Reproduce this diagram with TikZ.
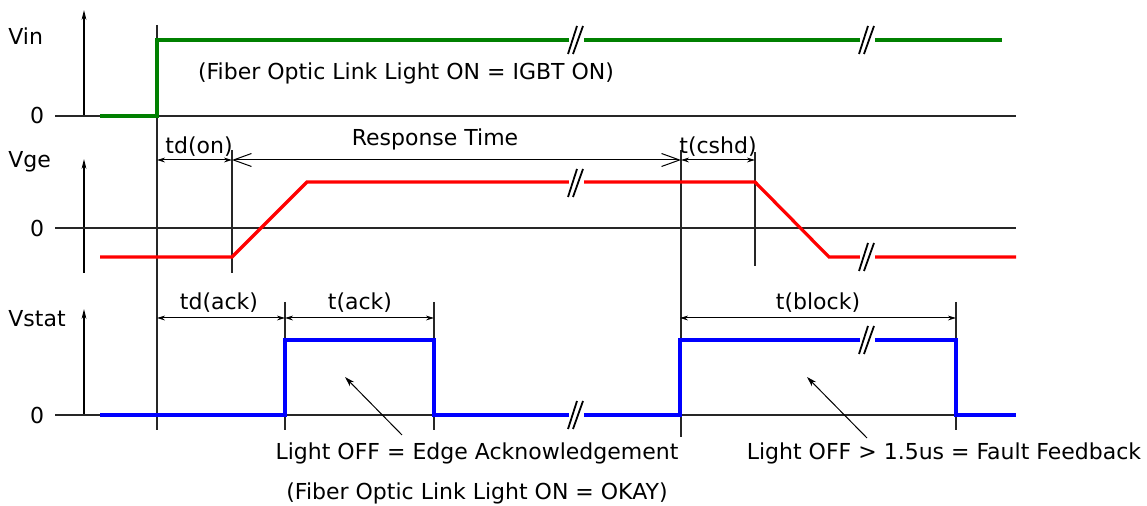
\documentclass[tikz,border=0pt]{standalone}
\usepackage{fontspec}
\setmainfont{DejaVu Sans}
\usetikzlibrary{arrows.meta,positioning,calc}

\definecolor{vingreen}{RGB}{0,128,0}
\definecolor{vgered}{RGB}{255,0,0}
\definecolor{statblue}{RGB}{0,0,255}

\begin{document}
\begin{tikzpicture}[x=0.5pt, y=-0.5pt,
	every node/.style={font=\fontsize{11}{13}\selectfont, inner sep=0pt},
	guide/.style={line width=0.6pt, black!85},
	axis/.style={line width=0.6pt, -{Stealth[length=5pt,width=2.4pt]}},
	dim/.style={line width=0.5pt, {Stealth[length=4pt,width=2.4pt]}-{Stealth[length=4pt,width=2.4pt]}},
	span/.style={line width=0.5pt, {Straight Barb[length=9pt,width=6.5pt]}-{Straight Barb[length=9pt,width=6.5pt]}},
	sig/.style={line width=1.6pt},
	brk/.style={line width=0.9pt},
	note/.style={line width=0.5pt, -{Stealth[length=5pt,width=3pt]}}]

	\useasboundingbox (0,0) rectangle (1147,506);

	% row labels
	\node[anchor=west] (vin) at (8,36) {Vin};
	\node[anchor=west] (vge) at (8,162) {Vge};
	\node[anchor=west] (vstat) at (8,319) {Vstat};
	\node (zin) at (37,116) {0};
	\node (zge) at (37,228) {0};
	\node (zstat) at (37,415) {0};

	% axes and zero lines
	\draw[axis] (84,116) -- (84,10);
	\draw[axis] (84,273) -- (84,159);
	\draw[axis] (84,415) -- (84,309);
	\foreach \zy in {116,228,415}
		\draw[guide] (55,\zy) -- (1016,\zy);

	% guide lines
	\foreach \gx/\gtop/\gbot in {157/25/430, 232/150/273, 681/150/437, 755/152/266,
		285/302/430, 434/302/430, 956/302/430}
		\draw[guide] (\gx,\gtop) -- (\gx,\gbot);

	% signals
	\draw[sig, vingreen] (100,116) -- (157,116) -- (157,40) -- (1002,40);
	\draw[sig, vgered] (100,257) -- (232,257) -- (307,182) -- (755,182) -- (829,257) -- (1016,257);
	\draw[sig, statblue] (100,415) -- (285,415) -- (285,340) -- (434,340) -- (434,415)
		-- (680,415) -- (680,340) -- (956,340) -- (956,415) -- (1016,415);

	% breaks
	\foreach \bx/\by in {575/40, 866/40, 575/183, 866/257, 575/415, 866/340} {
		\draw[white, line width=3.4pt] (\bx-6,\by) -- (\bx+9,\by);
		\draw[brk] (\bx-7,\by+14) -- (\bx+2,\by-14);
		\draw[brk] (\bx-2,\by+14) -- (\bx+8,\by-14);
	}

	% timings
	\coordinate (on1) at (157,160);
	\coordinate (on2) at (232,160);
	\coordinate (cs1) at (681,160);
	\coordinate (cs2) at (755,160);
	\draw[dim] (on1) -- (on2);
	\draw[dim] (cs1) -- (cs2);
	\draw[span] (on2) -- (cs1);
	\node (ton) at (199,147) {td(on)};
	\node (resp) at (435,139) {Response Time};
	\node (tcshd) at (718,147) {t(cshd)};

	\coordinate (ack1) at (157,318);
	\coordinate (ack2) at (285,318);
	\coordinate (ack3) at (434,318);
	\coordinate (blk1) at (680,318);
	\coordinate (blk2) at (956,318);
	\draw[dim] (ack1) -- (ack2);
	\draw[dim] (ack2) -- (ack3);
	\draw[dim] (blk1) -- (blk2);
	\node (tdack) at (219,303) {td(ack)};
	\node (tack) at (360,303) {t(ack)};
	\node (tblock) at (818,303) {t(block)};

	% notes
	\node (fiber) at (406,73) {(Fiber Optic Link Light ON = IGBT ON)};
	\node (edge) at (477,453) {Light OFF = Edge Acknowledgement};
	\node[below=9pt of edge] (okay) {(Fiber Optic Link Light ON = OKAY)};
	\node (fault) at (944,453) {Light OFF > 1.5us = Fault Feedback};

	\coordinate (acktail) at (402,435);
	\coordinate (ackhead) at (345,377);
	\coordinate (flttail) at (867,438);
	\coordinate (flthead) at (807,377);
	\draw[note] (acktail) -- (ackhead);
	\draw[note] (flttail) -- (flthead);
\end{tikzpicture}
\end{document}
